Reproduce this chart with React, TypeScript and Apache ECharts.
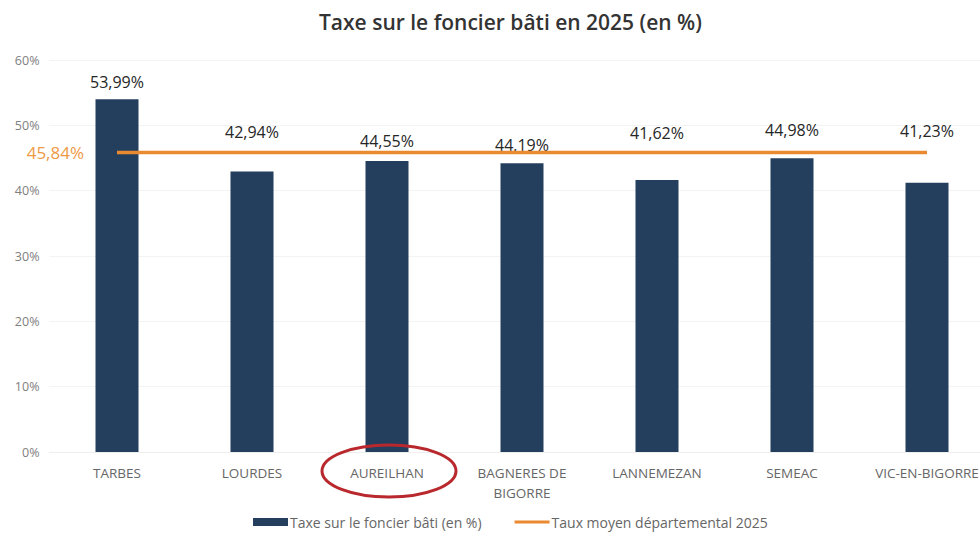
import React, { useEffect, useRef } from "react";
import * as echarts from "echarts";

const categories = [
  "TARBES",
  "LOURDES",
  "AUREILHAN",
  "BAGNERES DE\nBIGORRE",
  "LANNEMEZAN",
  "SEMEAC",
  "VIC-EN-BIGORRE",
];
const taxRates = [53.99, 42.94, 44.55, 44.19, 41.62, 44.98, 41.23];
const departmentAverage = 45.84;
const yTickValues = [0, 10, 20, 30, 40, 50, 60];

const barName = "Taxe sur le foncier bâti (en %)";
const lineName = "Taux moyen départemental 2025";
const highlighted = "AUREILHAN";

// manual vertical nudges of value labels (the original labels were moved by hand)
const labelNudges = [-4, -26, -7, -5, -34, -15, -39];

const fmt = (v: number) => v.toFixed(2).replace(".", ",") + "%";
const FONT = "'Open Sans', 'Liberation Sans', sans-serif";

export default function App() {
  const ref = useRef<HTMLDivElement>(null);
  useEffect(() => {
    if (!ref.current) return;
    const chart = echarts.init(ref.current, null, { renderer: "svg" });
    const option: any = {
      animation: false,
      backgroundColor: "#ffffff",
      textStyle: { fontFamily: FONT },
      title: {
        text: "Taxe sur le foncier bâti en 2025 (en %)",
        left: 314,
        top: 6,
        textStyle: { fontFamily: FONT, fontSize: 21, fontWeight: 600, color: "#333333" },
      },
      grid: { left: 49.5, width: 945, top: 60, bottom: 84, containLabel: false },
      legend: {
        top: 515,
        left: 253,
        itemWidth: 35,
        itemHeight: 8,
        itemGap: 33,
        padding: 0,
        textStyle: { fontFamily: FONT, fontSize: 14, color: "#666666", padding: [0, 0, 0, -3] },
        data: [
          { name: barName, icon: "rect" },
          { name: lineName, icon: "path://M0 0 L36 0 L36 3 L0 3 Z" },
        ],
      },
      xAxis: {
        type: "category",
        data: categories,
        axisTick: { show: false },
        axisLine: { show: true, lineStyle: { color: "#eeeeee" } },
        axisLabel: { color: "#666666", fontSize: 13.5, margin: 11, lineHeight: 20, interval: 0, fontFamily: FONT },
      },
      yAxis: {
        type: "value",
        min: yTickValues[0],
        max: yTickValues[yTickValues.length - 1],
        interval: yTickValues[1] - yTickValues[0],
        axisLabel: { formatter: "{value}%", color: "#808080", fontSize: 12.5, margin: 10, fontFamily: FONT },
        splitLine: { lineStyle: { color: "#f3f3f3" } },
        axisLine: { show: false },
        axisTick: { show: false },
      },
      series: [
        {
          name: barName,
          type: "bar",
          barWidth: 43,
          itemStyle: { color: "#243f5e" },
          data: taxRates.map((v, i) => ({
            value: v,
            label: { offset: [0, labelNudges[i]] },
          })),
          label: {
            show: true,
            position: "top",
            distance: 5,
            color: "#262626",
            fontSize: 16,
            fontFamily: FONT,
            formatter: (p: any) => fmt(p.value),
          },
          z: 2,
        },
        {
          name: lineName,
          type: "line",
          symbol: "none",
          lineStyle: { color: "#ea8a30", width: 3.5 },
          itemStyle: { color: "#ea8a30" },
          data: categories.map(() => departmentAverage),
          z: 3,
        },
      ],
    };
    chart.setOption(option);
    const idx = categories.indexOf(highlighted);
    const [cx, cy] = chart.convertToPixel({ xAxisIndex: 0, yAxisIndex: 0 }, [idx, 0]) as number[];
    const [lx, ly] = chart.convertToPixel({ xAxisIndex: 0, yAxisIndex: 0 }, [0, departmentAverage]) as number[];
    chart.setOption({
      graphic: [
        {
          type: "ellipse",
          shape: { cx: cx + 2, cy: cy + 19, rx: 67, ry: 26 },
          style: { fill: "none", stroke: "#b8282d", lineWidth: 3 },
          z: 10,
        },
        {
          type: "text",
          x: lx - 33,
          y: ly,
          style: {
            text: fmt(departmentAverage),
            fill: "#ee9a45",
            font: `17px ${FONT}`,
            align: "right",
            verticalAlign: "middle",
          },
          z: 10,
        },
      ],
    });
    return () => chart.dispose();
  }, []);
  return (
    <div style={{ position: "fixed", left: 0, top: 0, width: 980, height: 536, overflow: "hidden", background: "#fff" }}>
      <div ref={ref} style={{ width: 1010, height: 536 }} />
    </div>
  );
}
